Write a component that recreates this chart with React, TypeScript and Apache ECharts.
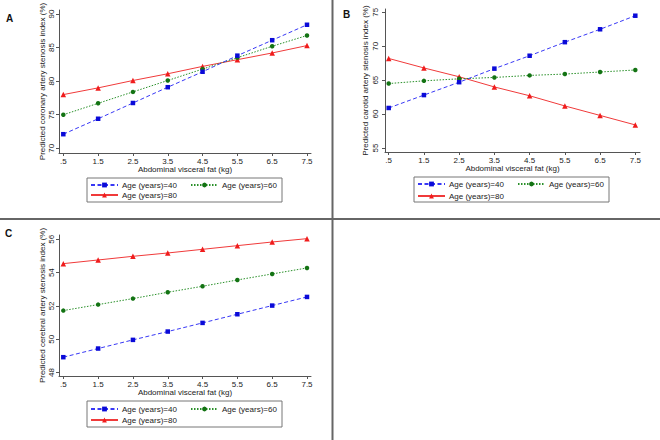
import React, { useEffect, useRef } from 'react';
import * as echarts from 'echarts';

const xValues = [0.5, 1.5, 2.5, 3.5, 4.5, 5.5, 6.5, 7.5];
const xTickLabels = ['.5', '1.5', '2.5', '3.5', '4.5', '5.5', '6.5', '7.5'];
const seriesNames = ['Age (years)=40', 'Age (years)=60', 'Age (years)=80'];

const aAge40 = [72.1, 74.4, 76.75, 79.1, 81.4, 83.8, 86.1, 88.4];
const aAge60 = [75.0, 76.7, 78.4, 80.1, 81.8, 83.5, 85.2, 86.8];
const aAge80 = [78.0, 79.0, 80.1, 81.1, 82.2, 83.2, 84.2, 85.3];

const bAge40 = [60.9, 62.8, 64.7, 66.7, 68.6, 70.6, 72.5, 74.5];
const bAge60 = [64.5, 64.9, 65.2, 65.4, 65.7, 65.9, 66.2, 66.5];
const bAge80 = [68.2, 66.8, 65.5, 64.0, 62.7, 61.2, 59.8, 58.4];

const cAge40 = [48.92, 49.44, 49.96, 50.46, 50.98, 51.5, 52.02, 52.54];
const cAge60 = [51.72, 52.08, 52.44, 52.82, 53.18, 53.56, 53.92, 54.28];
const cAge80 = [54.54, 54.76, 54.98, 55.18, 55.4, 55.62, 55.84, 56.04];

const aYTicks = [70, 75, 80, 85, 90];
const bYTicks = [55, 60, 65, 70, 75];
const cYTicks = [48, 50, 52, 54, 56];

const panelLetters = ['A', 'B', 'C'];
const yTitles = [
  'Predicted coronary artery stenosis index (%)',
  'Predicted carotid artery stenosis index (%)',
  'Predicted cerebral artery stenosis index (%)',
];
const xTitle = 'Abdominal visceral fat (kg)';

const panelData = [
  [aAge40, aAge60, aAge80],
  [bAge40, bAge60, bAge80],
  [cAge40, cAge60, cAge80],
];
const panelYTicks = [aYTicks, bYTicks, cYTicks];

const FONT = '"Liberation Sans", Arial, sans-serif';

const panels = [
  { grid: { left: 59, top: 10, width: 252, height: 143 }, xMin: 0.376, xMax: 7.615, yMin: 69.3, yMax: 90.6,
    labelMargin: 4, nameGap: 13,
    box: [87, 178, 195, 24], L1: 90, L2: 190, R1: 185, R2: 195, letter: [6, 13] },
  { grid: { left: 385, top: 9, width: 255, height: 143 }, xMin: 0.395, xMax: 7.633, yMin: 54.41, yMax: 75.49,
    labelMargin: 6, nameGap: 16,
    box: [414, 177, 195, 25], L1: 417, L2: 517, R1: 184, R2: 196, letter: [343, 9] },
  { grid: { left: 59, top: 235, width: 252, height: 141 }, xMin: 0.376, xMax: 7.615, yMin: 47.79, yMax: 56.26,
    labelMargin: 4, nameGap: 13,
    box: [87, 401, 195, 26], L1: 90, L2: 190, R1: 409, R2: 420, letter: [5, 228] },
];

const styles = [
  { symbol: 'rect', color: '#0a0ad8', line: '#3838f5', type: [4, 2.5] as any, size: 4.5 },
  { symbol: 'circle', color: '#137313', line: '#2a902a', type: [1.5, 1.5] as any, size: 4.5 },
  { symbol: 'triangle', color: '#f01c1c', line: '#f03a3a', type: 'solid' as any, size: 5.5 },
];

export default function App() {
  const ref = useRef<HTMLDivElement>(null);
  useEffect(() => {
    if (!ref.current) return;
    const chart = echarts.init(ref.current, undefined, { renderer: 'svg' });

    const axisColor = '#555';
    const textColor = '#222';

    const grids = panels.map((p) => ({ ...p.grid, containLabel: false }));
    const xAxes = panels.map((p, i) => ({
      type: 'value',
      gridIndex: i,
      min: p.xMin,
      max: p.xMax,
      name: xTitle,
      nameLocation: 'middle',
      nameGap: 12,
      nameTextStyle: { fontSize: 8, color: textColor, fontFamily: FONT },
      axisLine: { show: true, lineStyle: { color: axisColor, width: 1 } },
      axisTick: { show: true, length: 3, lineStyle: { color: axisColor }, customValues: xValues },
      axisLabel: {
        fontSize: 8, color: textColor, fontFamily: FONT, margin: 4,
        customValues: xValues,
        formatter: (v: number) => xTickLabels[xValues.indexOf(v)] ?? String(v),
      },
      splitLine: { show: false },
    }));
    const yAxes = panels.map((p, i) => ({
      type: 'value',
      gridIndex: i,
      min: p.yMin,
      max: p.yMax,
      name: yTitles[i],
      nameLocation: 'middle',
      nameRotate: 90,
      nameGap: p.nameGap,
      nameTextStyle: { fontSize: 8, color: textColor, fontFamily: FONT },
      axisLine: { show: true, lineStyle: { color: axisColor, width: 1 } },
      axisTick: { show: true, length: 3, lineStyle: { color: axisColor }, customValues: panelYTicks[i] },
      axisLabel: {
        fontSize: 8, color: textColor, fontFamily: FONT, margin: p.labelMargin, rotate: 90,
        customValues: panelYTicks[i],
      },
      splitLine: { show: false },
    }));

    const series: any[] = [];
    panelData.forEach((arrs, pi) => {
      arrs.forEach((arr, si) => {
        const st = styles[si];
        series.push({
          type: 'line',
          name: seriesNames[si],
          xAxisIndex: pi,
          yAxisIndex: pi,
          data: xValues.map((x, k) => [x, arr[k]]),
          symbol: st.symbol,
          symbolSize: st.size,
          showSymbol: true,
          itemStyle: { color: st.color },
          lineStyle: { color: st.line, width: 1, type: st.type },
          z: 3 - si,
        });
      });
    });

    const legends: any[] = [];
    panels.forEach((p) => {
      const pos = [
        [p.L1, p.R1],
        [p.L2, p.R1],
        [p.L1, p.R2],
      ];
      seriesNames.forEach((nm, si) => {
        legends.push({
          data: [nm],
          left: pos[si][0],
          top: pos[si][1] - 4,
          padding: 0,
          itemWidth: 27,
          itemHeight: 6,
          itemGap: 4,
          selectedMode: false,
          textStyle: { fontSize: 8, color: textColor, fontFamily: FONT, padding: [0, 0, 0, -1] },
        });
      });
    });

    const graphic: any[] = [
      { type: 'line', shape: { x1: 332.5, y1: 0, x2: 332.5, y2: 440 }, style: { stroke: '#666', lineWidth: 2 }, z: 10 },
      { type: 'line', shape: { x1: 0, y1: 219, x2: 660, y2: 219 }, style: { stroke: '#666', lineWidth: 2 }, z: 10 },
    ];
    panels.forEach((p, i) => {
      graphic.push({
        type: 'rect',
        shape: { x: p.box[0], y: p.box[1], width: p.box[2], height: p.box[3] },
        style: { fill: 'none', stroke: '#777', lineWidth: 1 },
        z: 1,
      });
      graphic.push({
        type: 'text',
        x: p.letter[0],
        y: p.letter[1],
        style: { text: panelLetters[i], fontSize: 10, fontWeight: 'bold', fill: '#111', font: `bold 10px ${FONT}` },
      });
    });

    chart.setOption({
      animation: false,
      backgroundColor: '#fff',
      grid: grids,
      xAxis: xAxes,
      yAxis: yAxes,
      legend: legends,
      series,
      graphic,
    } as any);

    return () => chart.dispose();
  }, []);

  return <div ref={ref} style={{ position: 'absolute', left: 0, top: 0, width: 660, height: 440 }} />;
}
